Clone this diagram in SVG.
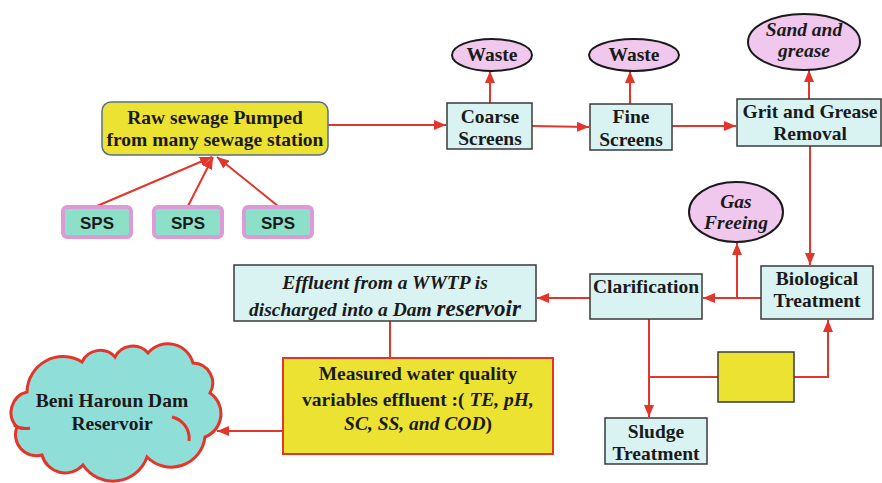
<svg xmlns="http://www.w3.org/2000/svg" width="882" height="483" viewBox="0 0 882 483" font-family="Liberation Serif, serif">
<defs>
<marker id="ah" viewBox="0 0 12 10" refX="12" refY="5" markerWidth="12" markerHeight="10" markerUnits="userSpaceOnUse" orient="auto"><path d="M0,0 L12,5 L0,10 z" fill="#e3352a"/></marker>
<style>
.box{fill:#d9f3f3;stroke:#3a3a3a;stroke-width:1.5}
.ell{fill:#f0c8ee;stroke:#1a1a1a;stroke-width:2}
.sps{fill:#8ce0c8;stroke:#dc9ad8;stroke-width:4}
.t{font-weight:bold;font-size:19.5px;fill:#1a1a1a;text-anchor:middle}
.i{font-style:italic}
.s{font-family:'Liberation Sans',Arial,sans-serif;font-weight:bold;font-size:17px;fill:#1a1a1a;text-anchor:middle}
.c{fill:none;stroke:#e3352a;stroke-width:2}
.ca{fill:none;stroke:#e3352a;stroke-width:2;marker-end:url(#ah)}
</style>
</defs>
<rect width="882" height="483" fill="#ffffff"/>
<g id="connectors">
<path class="ca" d="M97,206 L212,157"/>
<path class="ca" d="M188,206 L213,157"/>
<path class="ca" d="M278,206 L217,157"/>
<path class="ca" d="M328,125 L446,125"/>
<path class="ca" d="M532,126 L589,127"/>
<path class="ca" d="M672,126 L736,126"/>
<path class="ca" d="M490,103 L490,71"/>
<path class="ca" d="M630,104 L630,71"/>
<path class="ca" d="M809,99 L809,70"/>
<path class="ca" d="M810,146 L810,265"/>
<path class="ca" d="M761,298 L703,298"/>
<path class="ca" d="M737,298 L737,243"/>
<path class="ca" d="M590,298 L537,298"/>
<path class="ca" d="M649,319 L649,417"/>
<path class="c" d="M649,377 L718,377"/>
<path class="ca" d="M794,377 L828,377 L828,320"/>
<path class="c" d="M390,321 L390,358"/>
<path class="ca" d="M283,431 L217,431"/>
</g>
<g id="raw">
<rect x="102" y="102" width="226" height="53" rx="9" fill="#ece232" stroke="#5a6e8c" stroke-width="1.5"/>
<text class="t" x="215" y="124">Raw sewage Pumped</text>
<text class="t" x="215" y="146">from many sewage station</text>
</g>
<g id="sps1"><rect class="sps" x="63" y="207" width="68" height="30" rx="4"/><text class="s" x="97" y="229">SPS</text></g>
<g id="sps2"><rect class="sps" x="154" y="207" width="68" height="30" rx="4"/><text class="s" x="188" y="229">SPS</text></g>
<g id="sps3"><rect class="sps" x="244" y="207" width="68" height="30" rx="4"/><text class="s" x="278" y="229">SPS</text></g>
<g id="coarse">
<rect class="box" x="447" y="103" width="85" height="46"/>
<text class="t" x="490" y="123">Coarse</text>
<text class="t" x="490" y="145">Screens</text>
</g>
<g id="fine">
<rect class="box" x="590" y="104" width="82" height="46"/>
<text class="t" x="631" y="123">Fine</text>
<text class="t" x="631" y="146">Screens</text>
</g>
<g id="grit">
<rect class="box" x="737" y="99" width="144" height="47"/>
<text class="t" x="810" y="118">Grit and Grease</text>
<text class="t" x="810" y="140">Removal</text>
</g>
<g id="waste1">
<ellipse class="ell" cx="492" cy="55" rx="40" ry="16"/>
<text class="t" x="492" y="61">Waste</text>
</g>
<g id="waste2">
<ellipse class="ell" cx="634" cy="55" rx="45" ry="16"/>
<text class="t" x="634" y="61">Waste</text>
</g>
<g id="sand">
<ellipse class="ell" cx="804" cy="42" rx="56" ry="28"/>
<text class="t i" x="804" y="36" font-size="16">Sand and</text>
<text class="t i" x="804" y="57" font-size="16">grease</text>
</g>
<g id="gas">
<ellipse class="ell" cx="736" cy="212" rx="47" ry="30"/>
<text class="t i" x="736" y="208" font-size="16">Gas</text>
<text class="t i" x="736" y="229" font-size="16">Freeing</text>
</g>
<g id="bio">
<rect class="box" x="761" y="266" width="112" height="53"/>
<text class="t" x="817" y="285">Biological</text>
<text class="t" x="817" y="307">Treatment</text>
</g>
<g id="clar">
<rect class="box" x="590" y="274" width="112" height="45"/>
<text class="t" x="646" y="293">Clarification</text>
</g>
<g id="yellow">
<rect x="718" y="352" width="76" height="50" fill="#ece232" stroke="#3a3a3a" stroke-width="1.5"/>
</g>
<g id="sludge">
<rect class="box" x="605" y="418" width="102" height="46"/>
<text class="t" x="656" y="438">Sludge</text>
<text class="t" x="656" y="460">Treatment</text>
</g>
<g id="effluent">
<rect class="box" x="234" y="265" width="302" height="56"/>
<text class="t i" x="385" y="289">Effluent from a WWTP is</text>
<text class="t i" x="385" y="316">discharged into a Dam <tspan font-size="23">reservoir</tspan></text>
</g>
<g id="measured">
<rect x="283" y="358" width="270" height="96" fill="#ece232" stroke="#e3352a" stroke-width="2"/>
<text class="t" x="418" y="380">Measured water quality</text>
<text class="t" x="418" y="406">variables effluent :( <tspan font-style="italic">TE, pH,</tspan></text>
<text class="t" x="418" y="430"><tspan font-style="italic">SC, SS, and COD</tspan>)</text>
</g>
<g id="cloud">
<path d="M27,392 A36,36 0 0 1 82,362 A20,20 0 0 1 115,357 A20,20 0 0 1 148,353 A26,26 0 0 1 193,363 A20,20 0 0 1 210,393 A25,25 0 0 1 205,437 A34,34 0 0 1 147,457 A36,36 0 0 1 83,465 A24,24 0 0 1 42,455 A21,21 0 0 1 17,427 A21,21 0 0 1 27,392 Z" fill="#8fded8" stroke="#e3352a" stroke-width="3"/>
<path d="M172,417 A22,22 0 0 1 189,441" fill="none" stroke="#e3352a" stroke-width="3"/>
<path d="M14,425 A20,20 0 0 0 30,428" fill="none" stroke="#e3352a" stroke-width="3"/>
<text class="t" x="112" y="407">Beni Haroun Dam</text>
<text class="t" x="112" y="430">Reservoir</text>
</g>
</svg>
